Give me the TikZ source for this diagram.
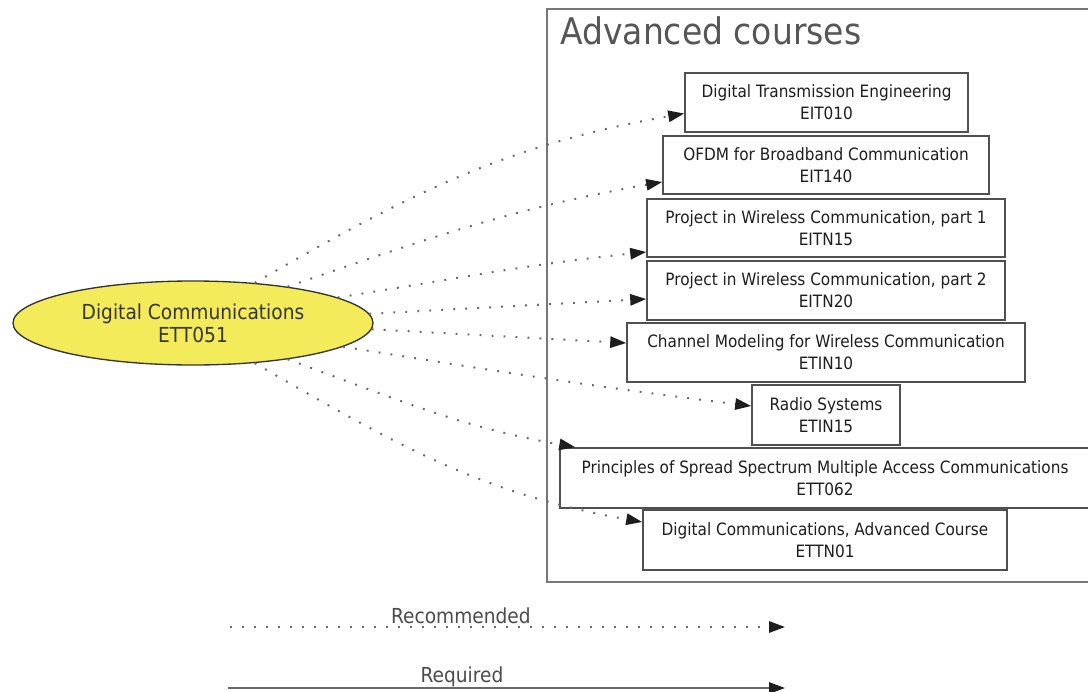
\documentclass[tikz,border=0pt]{standalone}
\usepackage{fontspec}
\setmainfont{DejaVu Sans}[FakeStretch=0.9]
\usetikzlibrary{arrows.meta,calc,shapes.geometric}
\definecolor{boxline}{HTML}{505050}
\definecolor{frameline}{HTML}{777777}
\definecolor{dotline}{HTML}{686868}
\definecolor{txt}{HTML}{1E1E1E}
\definecolor{ellfill}{HTML}{F3EB5A}
\begin{document}
\begin{tikzpicture}[x=0.75pt,y=0.75pt,
  course/.style={draw=boxline, line width=1.2pt, fill=white, align=center, inner sep=0pt,
    text=txt, font=\fontsize{12.75}{16.5}\selectfont},
  rec/.style={draw=dotline, line width=1.5pt, dash pattern=on 1.4pt off 7.6pt,
    -{Triangle[length=12pt,width=8.5pt,fill=txt,color=txt]}},
  req/.style={draw=dotline, line width=1.4pt,
    -{Triangle[length=12pt,width=8.5pt,fill=txt,color=txt]}},
  legendtxt/.style={text=txt!80!white, font=\fontsize{15.5}{18}\selectfont, inner sep=1pt}
]
\clip (0,0) rectangle (1088,-692);
\fill[white] (0,0) rectangle (1088,-692);

% container
\node[draw=frameline, line width=1.5pt, minimum width=420pt, minimum height=429.75pt,
      inner sep=0pt, anchor=north west] (adv) at (546,-8) {};
\node[anchor=base west, text=txt!75!white, font=\fontsize{27.5}{30}\selectfont, inner sep=0pt]
      (advtitle) at (560,-45) {Advanced courses};

% courses
\node[course, minimum width=212.25pt, minimum height=44.25pt] (b1) at (826.5,-102.5)
  {Digital Transmission Engineering\\EIT010};
\node[course, minimum width=244.5pt, minimum height=43.5pt] (b2) at (826,-165)
  {OFDM for Broadband Communication\\EIT140};
\node[course, minimum width=268.5pt, minimum height=43.5pt] (b3) at (826,-228)
  {Project in Wireless Communication, part 1\\EITN15};
\node[course, minimum width=268.5pt, minimum height=44.25pt] (b4) at (826,-290.5)
  {Project in Wireless Communication, part 2\\EITN20};
\node[course, minimum width=298.5pt, minimum height=44.25pt] (b5) at (826,-352.5)
  {Channel Modeling for Wireless Communication\\ETIN10};
\node[course, minimum width=111pt, minimum height=45pt] (b6) at (826,-415)
  {Radio Systems\\ETIN15};
\node[course, minimum width=397.5pt, minimum height=45pt] (b7) at (825,-478)
  {Principles of Spread Spectrum Multiple Access Communications\\ETT062};
\node[course, minimum width=273pt, minimum height=45pt] (b8) at (825,-540)
  {Digital Communications, Advanced Course\\ETTN01};

% source
\node[ellipse, draw=black!80, line width=1pt, fill=ellfill, minimum width=270pt,
      minimum height=63pt, inner sep=0pt, align=center, text=txt!90!white,
      font=\fontsize{15.5}{17.25}\selectfont] (dc) at (193,-323)
  {Digital Communications\\ETT051};

% recommended edges
\draw[rec] (dc.33) to[out=30,in=190] ($(b1.west)+(0,-11)$);
\draw[rec] (dc.21) to[out=19,in=190] ($(b2.west)+(0,-17)$);
\draw[rec] (dc.10) to[out=9,in=186] ($(b3.west)+(0,-24)$);
\draw[rec] (dc.3.5) -- ($(b4.west)+(0,-8.5)$);
\draw[rec] (dc.-2.2) -- ($(b5.west)+(0,9.5)$);
\draw[rec] (dc.-9.6) to[out=-9,in=173] ($(b6.west)+(0,9)$);
\draw[rec] (dc.-21) to[out=-20,in=170] ($(b7.north west)+(16,0)$);
\draw[rec] (dc.-33) to[out=-30,in=170] ($(b8.west)+(0,18)$);

% legend
\coordinate (ra) at (230,-627);
\coordinate (rb) at (785,-627);
\coordinate (qa) at (228,-688);
\coordinate (qb) at (785,-688);
\draw[rec] (ra) -- (rb) node[legendtxt, pos=0.416, anchor=south, yshift=1pt] {Recommended};
\draw[req] (qa) -- (qb) node[legendtxt, pos=0.42, anchor=south, inner sep=0.5pt] {Required};
\end{tikzpicture}
\end{document}
